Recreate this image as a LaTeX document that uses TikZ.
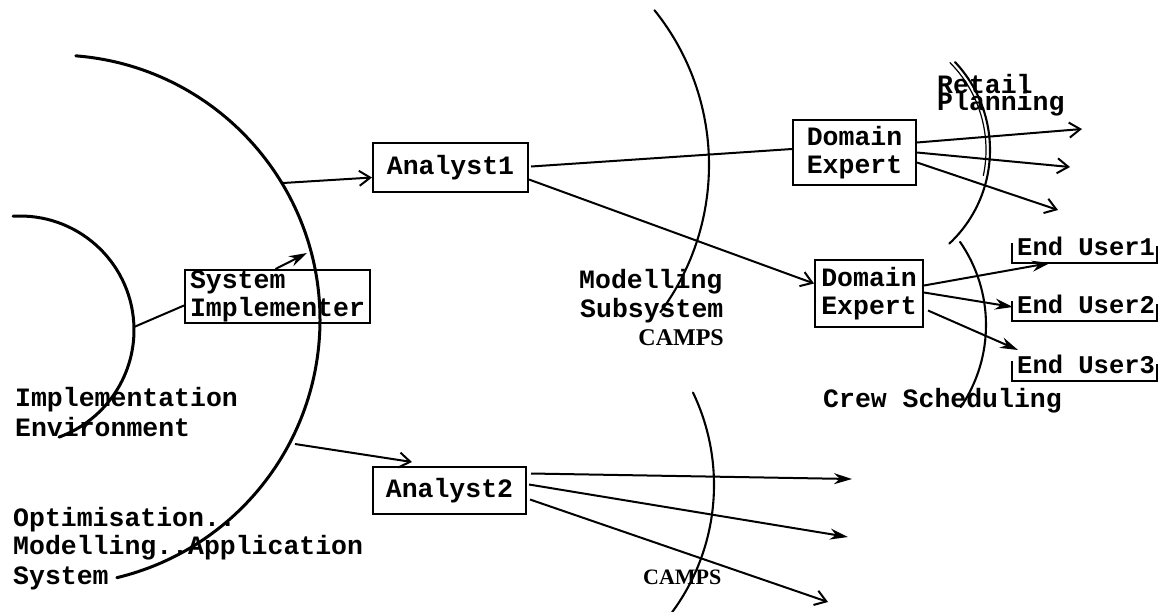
\documentclass[tikz,border=0pt]{standalone}
\usepackage{fontspec}
\setmainfont{Liberation Serif}
\newfontfamily\tw{Liberation Mono}
\usetikzlibrary{arrows.meta,calc}
\begin{document}
\begin{tikzpicture}[x=1pt,y=-1pt,
  every node/.style={font=\tw\bfseries\fontsize{26.5}{28}\selectfont},
  box/.style={draw, line width=2pt, inner sep=0pt, align=center},
  txt/.style={anchor=base west, inner sep=0pt},
  eutxt/.style={anchor=base west, inner sep=0pt, font=\tw\bfseries\fontsize{25.5}{27}\selectfont},
  serifcaps/.style={inner sep=0pt, font=\bfseries\fontsize{24}{26}\selectfont},
  conn/.style={line width=2pt},
  openarrow/.style={conn, -{Straight Barb[length=11pt,width=15pt,line width=2pt]}},
  solidarrow/.style={conn, -{Stealth[length=18pt,width=11pt]}},
  bigarc/.style={line width=3pt, line cap=round},
  thinarc/.style={line width=2.1pt, line cap=round}]
\useasboundingbox (0,0) rectangle (1161,611);

% ---- arcs (shapes drawn directly) ----
% Optimisation Modelling Application System
\draw[bigarc] (55,320) ++(85.5:265pt) arc[start angle=85.5, end angle=-76.5, radius=265pt];
% Implementation Environment
\draw[bigarc] (20,330) ++(93.5:114pt) arc[start angle=93.5, end angle=-70, radius=114pt];
% Modelling Subsystem CAMPS
\draw[thinarc] (462,165) ++(38.8:247pt) arc[start angle=38.8, end angle=-36.6, radius=247pt];
% CAMPS (lower)
\draw[thinarc] (500,485) ++(25.6:214pt) arc[start angle=25.6, end angle=-37, radius=214pt];
% Retail Planning (double stroke at top)
\draw[thinarc] (862,150) ++(43.4:128pt) arc[start angle=43.4, end angle=-47, radius=128pt];
\draw[line width=1.2pt] (862,150) ++(45:124pt) arc[start angle=45, end angle=-12, radius=124pt];
% Crew Scheduling
\draw[thinarc] (840,325) ++(34.7:146pt) arc[start angle=34.7, end angle=-34.2, radius=146pt];

% ---- points on arcs and free ends ----
\coordinate (bigA1) at (283,183);
\coordinate (bigA2) at (295,444);
\coordinate (bigSI) at (307,253);
\coordinate (inSI) at (134,327);
\coordinate (r1) at (1082,129);
\coordinate (r2) at (1070,167);
\coordinate (r3) at (1058,210);
\coordinate (c1) at (852,479);
\coordinate (c2) at (848,537);
\coordinate (c3) at (828,602);

% ---- boxes ----
\node[box, minimum width=155pt, minimum height=49pt] (a1) at (450.5,167.5) {Analyst1};
\node[box, minimum width=153pt, minimum height=47pt] (a2) at (449.5,490.5) {Analyst2};
\node[box, minimum width=123pt, minimum height=65pt] (de1) at (854.5,152.5) {Domain\\Expert};
\node[box, minimum width=108pt, minimum height=67pt] (de2) at (869,293.5) {Domain\\Expert};
\node[box, align=left, minimum width=185pt, minimum height=53pt] (si) at (277.5,296.5) {System\\Implementer};

% ---- end users ----
\node[eutxt] (eu1) at (1017,255) {End User1};
\node[eutxt] (eu2) at (1017,313) {End User2};
\node[eutxt] (eu3) at (1017,373) {End User3};
\foreach \e in {eu1,eu2,eu3}{
  \draw[conn] ($(\e.base west)+(-5,-12)$) -- ($(\e.base west)+(-5,8)$) -| ($(\e.base east)+(2,-9)$);
}

% ---- labels ----
\node[txt] (ie1) at (15,406) {Implementation};
\node[txt] (ie2) at (15,436) {Environment};
\node[txt] (om1) at (13,526) {Optimisation..};
\node[txt] (om2) at (13,554) {Modelling..Application};
\node[txt] (om3) at (13,584) {System};
\node[txt] (ms1) at (579,288) {Modelling};
\node[txt] (ms2) at (580,317) {Subsystem};
\node[serifcaps, anchor=base east] (ms3) at (724,345) {CAMPS};
\node[serifcaps, anchor=base west, font=\bfseries\fontsize{22}{24}\selectfont] (camps2) at (643,584) {CAMPS};
\node[txt] (rp1) at (937,93) {Retail};
\node[txt] (rp2) at (937,110) {Planning};
\node[txt] (cs) at (823,407) {Crew Scheduling};

% ---- connectors ----
\draw[conn] (inSI) -- ([yshift=-9pt]si.west);
\draw[solidarrow] ([xshift=-2pt]si.north) -- (bigSI);
\draw[openarrow] (bigA1) -- ([yshift=-10pt]a1.west);
\draw[openarrow] (bigA2) -- ($(a2.north west)+(40,-4)$);
\draw[conn] ($(a1.east)+(2,-1)$) -- ($(de1.west)+(0,-3.5)$);
\draw[openarrow] ($(a1.east)+(0,12)$) -- ($(de2.west)+(0,-10)$);
\draw[openarrow] ($(de1.east)+(0,-10)$) -- (r1);
\draw[openarrow] ($(de1.east)+(0,0)$) -- (r2);
\draw[openarrow] ($(de1.east)+(0,10)$) -- (r3);
\draw[solidarrow] ($(de2.east)+(0,-8)$) -- ($(eu1.base west)+(33,8)$);
\draw[solidarrow] ($(de2.east)+(0,-1)$) -- ($(eu2.base west)+(-4,-6)$);
\draw[solidarrow] ($(de2.east)+(4,17)$) -- ($(eu3.base west)+(1,-23)$);
\draw[solidarrow] ($(a2.east)+(4,-17)$) -- (c1);
\draw[solidarrow] ($(a2.east)+(2,-6)$) -- (c2);
\draw[openarrow] ($(a2.east)+(3,9)$) -- (c3);
\end{tikzpicture}
\end{document}
